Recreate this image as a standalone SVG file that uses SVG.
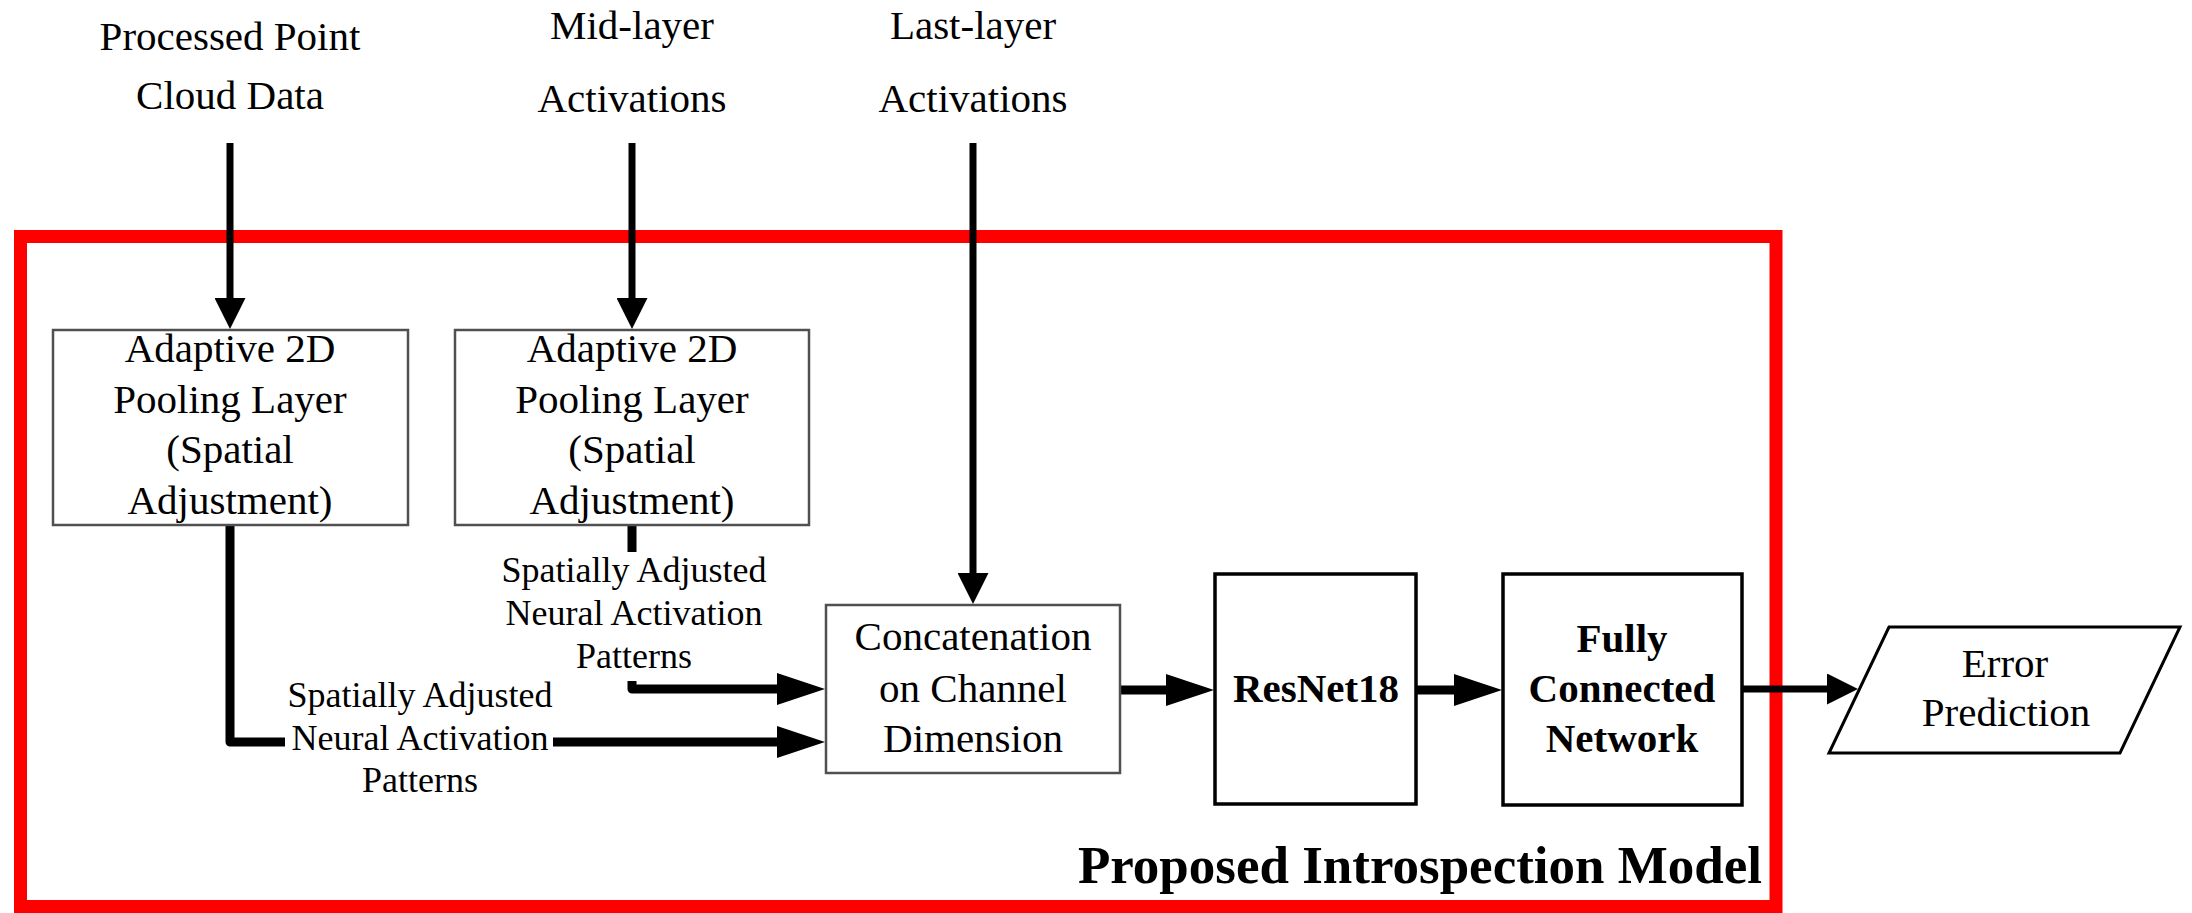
<svg xmlns="http://www.w3.org/2000/svg" width="2192" height="913" viewBox="0 0 2192 913">
  <style>
    text { font-family: "Liberation Serif", "Times New Roman", serif; fill: #000; text-anchor: middle; }
    .t { font-size: 41px; }
    .lbl { font-size: 36px; }
    .b { font-weight: bold; }
    .title { font-size: 53px; font-weight: bold; text-anchor: end; }
    .gbox { fill: #fff; stroke: #505050; stroke-width: 2.5; }
    .kbox { fill: #fff; stroke: #000; stroke-width: 3.5; }
    .wire { fill: none; stroke: #000; stroke-linejoin: round; }
    .v { stroke-width: 7; marker-end: url(#headS); }
    .h { stroke-width: 9; stroke-linecap: round; marker-end: url(#headL); }
  </style>
  <defs>
    <marker id="headL" markerUnits="userSpaceOnUse" markerWidth="48" markerHeight="32" refX="0" refY="16" orient="auto">
      <path d="M0,0 L48,16 L0,32 z" fill="#000"/>
    </marker>
    <marker id="headS" markerUnits="userSpaceOnUse" markerWidth="31" markerHeight="31" refX="0" refY="15.5" orient="auto">
      <path d="M0,0 L31,15.5 L0,31 z" fill="#000"/>
    </marker>
  </defs>

  <rect width="2192" height="913" fill="#fff"/>

  <!-- model boundary -->
  <g id="model-frame">
    <rect x="20.5" y="236.5" width="1755.5" height="670" fill="none" stroke="#ff0000" stroke-width="13"/>
    <text class="title" x="1762" y="883">Proposed Introspection Model</text>
  </g>

  <!-- inputs -->
  <g id="input-pointcloud">
    <text class="t" x="230" y="50">Processed Point</text>
    <text class="t" x="230" y="109">Cloud Data</text>
  </g>
  <g id="input-midlayer">
    <text class="t" x="632" y="39">Mid-layer</text>
    <text class="t" x="632" y="112">Activations</text>
  </g>
  <g id="input-lastlayer">
    <text class="t" x="973" y="39">Last-layer</text>
    <text class="t" x="973" y="112">Activations</text>
  </g>

  <!-- connectors -->
  <g id="connectors">
    <path class="wire v" d="M230,143 V298"/>
    <path class="wire v" d="M632,143 V298"/>
    <path class="wire v" d="M973,143 V573"/>
    <path class="wire h" style="stroke-linecap:butt" d="M230,525 V742 H777"/>
    <path class="wire h" style="stroke-linecap:butt" d="M632,525 V689 H777"/>
    <path class="wire h" d="M1120,690 H1166"/>
    <path class="wire h" d="M1416,690 H1454"/>
    <path class="wire v" style="stroke-linecap:round" d="M1742,689 H1827"/>
  </g>

  <!-- edge labels -->
  <g id="label-pool1">
    <rect x="285" y="680" width="268" height="122" fill="#fff"/>
    <text class="lbl" x="420" y="707">Spatially Adjusted</text>
    <text class="lbl" x="420" y="750">Neural Activation</text>
    <text class="lbl" x="420" y="792">Patterns</text>
  </g>
  <g id="label-pool2">
    <rect x="498" y="552" width="272" height="129" fill="#fff"/>
    <text class="lbl" x="634" y="582">Spatially Adjusted</text>
    <text class="lbl" x="634" y="625">Neural Activation</text>
    <text class="lbl" x="634" y="668">Patterns</text>
  </g>

  <!-- processing blocks -->
  <g id="pool1">
    <rect class="gbox" x="53" y="330" width="355" height="195"/>
    <text class="t" x="230" y="362">Adaptive 2D</text>
    <text class="t" x="230" y="413">Pooling Layer</text>
    <text class="t" x="230" y="463">(Spatial</text>
    <text class="t" x="230" y="514">Adjustment)</text>
  </g>
  <g id="pool2">
    <rect class="gbox" x="455" y="330" width="354" height="195"/>
    <text class="t" x="632" y="362">Adaptive 2D</text>
    <text class="t" x="632" y="413">Pooling Layer</text>
    <text class="t" x="632" y="463">(Spatial</text>
    <text class="t" x="632" y="514">Adjustment)</text>
  </g>
  <g id="concat">
    <rect class="gbox" x="826" y="605" width="294" height="168"/>
    <text class="t" x="973" y="650">Concatenation</text>
    <text class="t" x="973" y="702">on Channel</text>
    <text class="t" x="973" y="752">Dimension</text>
  </g>
  <g id="resnet">
    <rect class="kbox" x="1215" y="574" width="201" height="230"/>
    <text class="t b" x="1316" y="702">ResNet18</text>
  </g>
  <g id="fc">
    <rect class="kbox" x="1503" y="574" width="239" height="231"/>
    <text class="t b" x="1622" y="652">Fully</text>
    <text class="t b" x="1622" y="702">Connected</text>
    <text class="t b" x="1622" y="752">Network</text>
  </g>
  <g id="error-output">
    <polygon points="1889,627 2180,627 2120,753 1829,753" fill="#fff" stroke="#000" stroke-width="3"/>
    <text class="t" x="2005" y="677">Error</text>
    <text class="t" x="2006" y="726">Prediction</text>
  </g>
</svg>
